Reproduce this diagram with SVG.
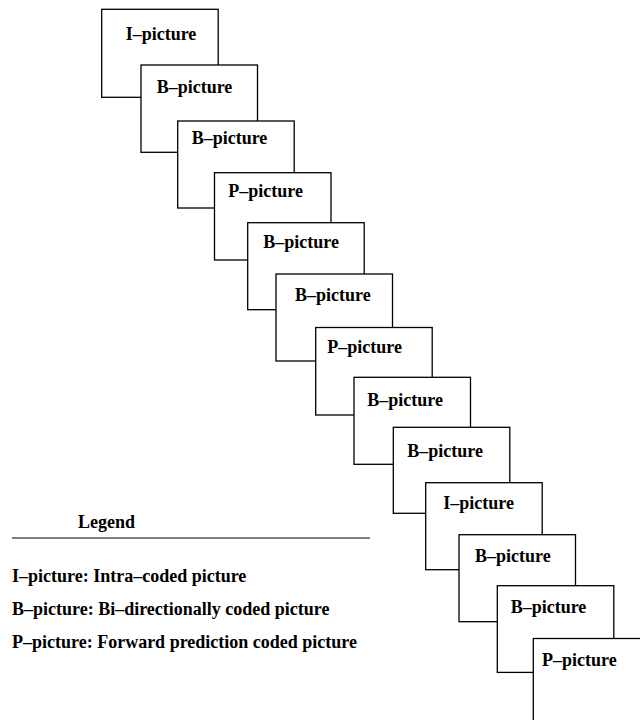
<svg xmlns="http://www.w3.org/2000/svg" width="640" height="720" viewBox="0 0 640 720">
<style>
.box{fill:#fff;stroke:#000;stroke-width:1.3}
.lbl{font-family:"Liberation Serif","Times New Roman",serif;font-weight:bold;font-size:18px;fill:#000}
</style>
<rect width="640" height="720" fill="#fff"/>
<g id="pic1"><rect class="box" x="101.7" y="9.3" width="116.5" height="88"/><text class="lbl" x="125.7" y="39.5">I–picture</text></g>
<g id="pic2"><rect class="box" x="141" y="65" width="116.5" height="87.3"/><text class="lbl" x="156.7" y="93">B–picture</text></g>
<g id="pic3"><rect class="box" x="177.7" y="121" width="116.5" height="87"/><text class="lbl" x="191.7" y="144">B–picture</text></g>
<g id="pic4"><rect class="box" x="214.5" y="172.7" width="116.5" height="87.3"/><text class="lbl" x="228.3" y="196.7">P–picture</text></g>
<g id="pic5"><rect class="box" x="247.7" y="222.7" width="116.5" height="87"/><text class="lbl" x="263.3" y="248.3">B–picture</text></g>
<g id="pic6"><rect class="box" x="276" y="274" width="116.5" height="87"/><text class="lbl" x="295" y="300.7">B–picture</text></g>
<g id="pic7"><rect class="box" x="315.7" y="327.5" width="116.5" height="87.5"/><text class="lbl" x="327.3" y="353.3">P–picture</text></g>
<g id="pic8"><rect class="box" x="354" y="377.3" width="116.5" height="87"/><text class="lbl" x="367.3" y="406">B–picture</text></g>
<g id="pic9"><rect class="box" x="393.3" y="427.3" width="116.5" height="86"/><text class="lbl" x="407.3" y="457.3">B–picture</text></g>
<g id="pic10"><rect class="box" x="425.7" y="482.7" width="116.5" height="87"/><text class="lbl" x="443.3" y="509.3">I–picture</text></g>
<g id="pic11"><rect class="box" x="459" y="534.7" width="116.5" height="87"/><text class="lbl" x="475" y="561.7">B–picture</text></g>
<g id="pic12"><rect class="box" x="497.3" y="585.7" width="116.5" height="86.7"/><text class="lbl" x="510.7" y="613.3">B–picture</text></g>
<g id="pic13"><rect class="box" x="533.3" y="638.5" width="116.5" height="87"/><text class="lbl" x="542" y="665.5">P–picture</text></g>
<g id="legend">
<text class="lbl" x="78" y="528">Legend</text>
<line x1="12" y1="538" x2="370" y2="538" stroke="#000" stroke-width="1.2"/>
<text class="lbl" x="12" y="581.5">I–picture: Intra–coded picture</text>
<text class="lbl" x="12" y="614.5">B–picture: Bi–directionally coded picture</text>
<text class="lbl" x="12" y="647.5">P–picture: Forward prediction coded picture</text>
</g>
</svg>
